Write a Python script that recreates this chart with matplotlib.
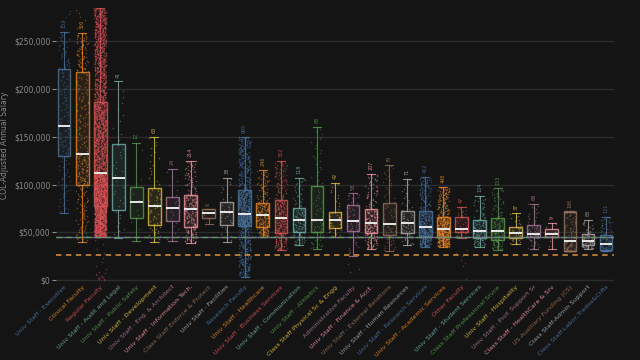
import numpy as np
from matplotlib import pyplot as plt
from matplotlib.ticker import FuncFormatter

# categories and read-off box stats (COL-adjusted annual salary, $)
categories = [
    "Univ Staff - Executive", "Clinical Faculty", "Regular Faculty",
    "Univ Staff - Audit and Legal", "Univ Staff - Public Safety", "Univ Staff - Development",
    "Univ Staff - Eng. & Architect", "Univ Staff - Information Tech.", "Class Staff Enforce & Protect",
    "Univ Staff - Facilities", "Research Faculty", "Univ Staff - Healthcare",
    "Univ Staff - Business Services", "Univ Staff - Communication", "Univ Staff - Athletics",
    "Class Staff Physical Sc & Engg", "Administrative Faculty", "Univ Staff - Finance & Acct.",
    "Univ Staff - External Relations", "Univ Staff - Human Resources", "Univ Staff - Research Services",
    "Univ Staff - Academic Services", "Other Faculty", "Univ Staff - Student Services",
    "Class Staff Professional Srvce", "Univ Staff - Hospitality", "Univ Staff - Prof. Support Sr",
    "Class Staff - HealthCare & Srv", "US-Auxiliary Funding (CS)", "Class Staff-Admin Support",
    "Class Staff-Labor,Trades&Crfts",
]
whislo = [70000, 40000, 45000, 44000, 41000, 39700, 40800, 38700, 59000, 39400,
          3500, 45000, 31000, 36600, 33000, 45300, 25400, 33000, 30700, 36600,
          35000, 35000, 44000, 35000, 31400, 37300, 33000, 33000, 30300, 33000, 30000]
q1 = [129700, 100000, 78000, 73000, 65000, 57500, 61700, 55800, 64500, 58000,
      57000, 55800, 49000, 50500, 50500, 54700, 51000, 49000, 47000, 48800,
      46000, 45000, 50500, 43600, 41800, 43600, 44700, 45300, 30300, 36600, 31400]
median = [161600, 131800, 112000, 107000, 81600, 77700, 76000, 74000, 70000, 70800,
          69000, 67700, 65000, 62800, 62800, 62800, 61700, 60000, 59000, 59300,
          55800, 53400, 54000, 51600, 51000, 48800, 47800, 47800, 40800, 41000, 37700]
q3 = [220700, 217600, 186000, 142000, 98000, 96000, 87000, 89000, 74000, 82000,
      94000, 81000, 83700, 75000, 99000, 71500, 79000, 74000, 81000, 72500,
      72000, 66000, 65600, 62800, 64500, 55800, 57500, 54000, 71400, 47800, 47000]
whishi = [260000, 259000, 285000, 208000, 144000, 150000, 116000, 125000, 74000, 107000,
          150000, 115000, 124500, 106700, 160000, 102000, 90700, 111600, 120000, 105600,
          108000, 98000, 76700, 88000, 96000, 69800, 80000, 60000, 72000, 62800, 66000]
counts = [152, 310, 3120, 41, 12, 63, 24, 214, 6, 38,
          905, 246, 352, 118, 86, 42, 58, 207, 79, 71,
          412, 498, 47, 124, 153, 37, 68, 9, 196, 83, 121]
# points beyond the whiskers
outliers = {
    0: [266000, 271000, 275000, 279000, 282000],
    1: [264000, 268000, 272000, 276000, 280000, 283000],
    2: [500, 1000, 1500, 2000, 2500, 3000, 3500, 4000, 5000, 6000, 7000, 9000, 12000,
        15000, 19000, 23000, 28000, 33000, 38000, 42000],
    16: [8000, 12000, 17000],
    22: [15000, 18000, 21000, 25000, 28000, 31000, 1500],
}

palette = ["#4e79a7", "#f28e2b", "#e15759", "#76b7b2", "#59a14f",
           "#edc948", "#b07aa1", "#ff9da7", "#9c755f", "#bab0ac"]
bg = "#141414"
ytop = 285000

fig = plt.figure(figsize=(6.4, 3.6), dpi=100, facecolor=bg)
ax = fig.add_axes([0.0875, 0.214, 0.872, 0.764], facecolor=bg)

rng = np.random.default_rng(3)  # only used for horizontal jitter
for i, cat in enumerate(categories):
    color = palette[i % 10]
    # spread the points through the read quantiles
    p = (np.arange(counts[i]) + 0.5) / counts[i]
    vals = np.interp(p, [0, 0.25, 0.5, 0.75, 1.0],
                     [whislo[i], q1[i], median[i], q3[i], whishi[i]])
    vals = np.concatenate([vals, outliers.get(i, [])])
    xs = i + rng.uniform(-0.33, 0.33, len(vals))
    ax.scatter(xs, vals, s=1.2, color=color, alpha=0.4, linewidths=0, zorder=3)

    stats = [dict(whislo=whislo[i], q1=q1[i], med=median[i], q3=q3[i], whishi=whishi[i], fliers=[])]
    ax.bxp(stats, positions=[i], widths=0.7, showfliers=False, patch_artist=True,
           boxprops=dict(facecolor=color + "1c", edgecolor=color + "c0", linewidth=1.0, zorder=2),
           whiskerprops=dict(color=color + "c0", linewidth=0.8, zorder=2),
           capprops=dict(color=color + "c0", linewidth=0.8, zorder=2),
           capwidths=0.45,
           medianprops=dict(color="#e8e8e8", linewidth=1.4, zorder=4))
    if whishi[i] + 20000 < ytop:
        ax.text(i, whishi[i] + 4000, str(counts[i]), rotation=90, fontsize=3.5, color=color,
                alpha=0.8, ha="center", va="bottom", zorder=5)

# reference lines
ax.axhline(45000, color="#8a6fb5", linewidth=1.0, alpha=0.8, zorder=5)
ax.axhline(45000, color="#59a14f", linewidth=1.0, dashes=(4, 3), alpha=0.9, zorder=5)
ax.axhline(26000, color="#d9943a", linewidth=1.3, dashes=(3, 2.5), alpha=0.85, zorder=5)

ax.set_xlim(-0.45, len(categories) - 0.55)
ax.set_ylim(-3000, ytop)
ax.set_yticks([0, 50000, 100000, 150000, 200000, 250000])
ax.yaxis.set_major_formatter(FuncFormatter(lambda v, _: f"${v:,.0f}"))
ax.grid(axis="y", color="#2c2c2c", linewidth=1.0, zorder=0)
ax.set_axisbelow(True)
for s in ax.spines.values():
    s.set_visible(False)
ax.tick_params(axis="y", colors="#8a8a8a", labelsize=5.5, length=3, width=0.8, pad=1)
ax.tick_params(axis="x", length=0, pad=1)

ax.set_xticks(range(len(categories)))
ax.set_xticklabels(categories, rotation=45, ha="right", rotation_mode="anchor", fontsize=4.6)
for i, lbl in enumerate(ax.get_xticklabels()):
    lbl.set_color(palette[i % 10])
    lbl.set_alpha(0.85)

ax.set_ylabel("COL-Adjusted Annual Salary", color="#8a8a8a", fontsize=5.5, labelpad=4)

fig.savefig("out.png", dpi=100, facecolor=bg)
